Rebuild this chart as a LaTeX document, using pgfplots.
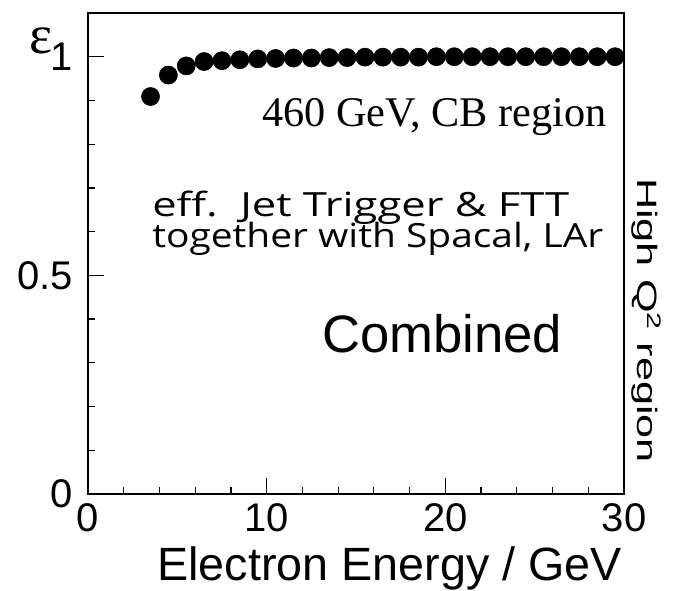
\documentclass[border=0pt]{standalone}
\usepackage{pgfplots}
\pgfplotsset{compat=1.18}
\usepackage{graphicx}
\usepackage{fontspec}
\setmainfont{Liberation Sans}
\newfontfamily\timesfont{Liberation Serif}
\newfontfamily\handfont{Open Sans}

% trigger efficiency vs. electron energy
\pgfplotstableread{
E     eff
3.5   0.909
4.5   0.958
5.5   0.979
6.5   0.989
7.5   0.991
8.5   0.993
9.5   0.995
10.5  0.996
11.5  0.997
12.5  0.997
13.5  0.998
14.5  0.998
15.5  0.999
16.5  0.999
17.5  0.999
18.5  0.999
19.5  1.000
20.5  1.000
21.5  1.000
22.5  1.000
23.5  1.000
24.5  1.000
25.5  1.000
26.5  1.000
27.5  1.000
28.5  1.000
29.5  1.000
}\efftable

\begin{document}
\begin{tikzpicture}
\useasboundingbox (-66pt,-72.75pt) rectangle (439.5pt,370.5pt);
\begin{axis}[
  at={(0pt,0pt)}, anchor=south west,
  scale only axis, width=402pt, height=360.75pt,
  xmin=0, xmax=30, ymin=0, ymax=1.1,
  xtick={0,10,20,30}, ytick={0,0.5,1},
  minor x tick num=4, minor y tick num=4,
  tick align=inside, xtick pos=bottom, ytick pos=left,
  major tick length=12pt, minor tick length=5.25pt,
  axis line style={line width=0.9pt},
  every tick/.style={black, line width=0.9pt},
  /pgf/number format/assume math mode=true,
  tick label style={font=\fontsize{30}{36}\selectfont},
  xticklabel style={anchor=north, inner sep=0pt, yshift=-6.75pt},
  yticklabel style={anchor=east, inner sep=0pt, xshift=-11.25pt},
  clip=false,
]
\addplot[only marks, mark=*, mark size=6.8pt, black] table[x=E, y=eff] {\efftable};
\end{axis}

% axis titles
\node[anchor=center, inner sep=0pt] at (-35.25pt,339.5pt)
  {\timesfont\fontsize{41}{44}\selectfont ε};
\node[anchor=base east, inner sep=0pt] at (400.5pt,-65.25pt)
  {\fontsize{35}{40}\selectfont Electron Energy / GeV};
\node[anchor=base, inner sep=0pt, rotate=-90] at (411.75pt,130.1pt)
  {\resizebox{213.75pt}{\height}{\fontsize{21}{24}\selectfont High Q\textsuperscript{2} region}};

% annotations
\node[anchor=base west, inner sep=0pt] at (130.5pt,275.25pt)
  {\timesfont\fontsize{31.7}{36}\selectfont 460 GeV, CB region};
\node[anchor=base west, inner sep=0pt] at (48pt,207.75pt)
  {\resizebox{312.75pt}{\height}{\handfont\fontsize{25}{29}\selectfont eff.\ \ Jet Trigger \& FTT}};
\node[anchor=base west, inner sep=0pt] at (48pt,184.5pt)
  {\resizebox{338.25pt}{\height}{\handfont\fontsize{25}{29}\selectfont together with Spacal, LAr}};
\node[anchor=base west, inner sep=0pt] at (175.5pt,105.75pt)
  {\fontsize{39.5}{44}\selectfont Combined};
\end{tikzpicture}
\end{document}
